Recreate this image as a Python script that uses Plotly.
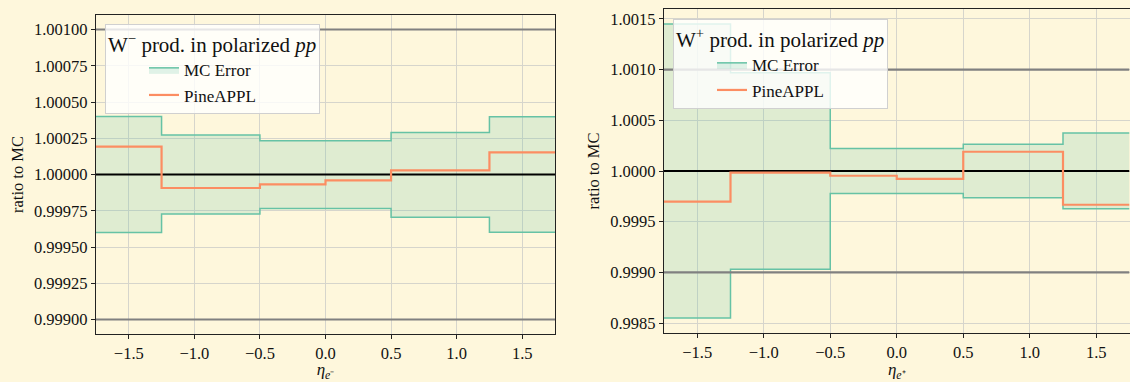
import plotly.graph_objects as go

# ---------------- data ----------------
bin_edges = [-1.75, -1.25, -0.5, 0.0, 0.5, 1.25, 1.75]

# W- panel
wm_mc_upper = [1.000400, 1.000272, 1.000233, 1.000233, 1.000290, 1.000398]
wm_mc_lower = [0.999600, 0.999727, 0.999765, 0.999765, 0.999705, 0.999602]
wm_pineappl = [1.000192, 0.999907, 0.999932, 0.999959, 1.000028, 1.000152]

# W+ panel
wp_mc_upper = [1.001450, 1.000970, 1.000223, 1.000223, 1.000263, 1.000375]
wp_mc_lower = [0.998550, 0.999030, 0.999778, 0.999778, 0.999737, 0.999628]
wp_pineappl = [0.999698, 0.999983, 0.999953, 0.999922, 1.000190, 0.999667]

ref_levels = [0.999, 1.001]
unity = 1.0

x_ticks = [-1.5, -1.0, -0.5, 0.0, 0.5, 1.0, 1.5]
titles = ["W<sup>−</sup> prod. in polarized <i>pp</i>",
          "W<sup>+</sup> prod. in polarized <i>pp</i>"]
x_titles = ["<i>η</i><sub><i>e</i>⁻</sub>", "<i>η</i><sub><i>e</i>⁺</sub>"]

# ---------------- style ----------------
BG = "#fef7dc"
GREEN = "#66c2a5"
GREEN_FILL = "rgba(102,194,165,0.2)"
ORANGE = "#fc8d62"
GRID = "#d6d5cc"
FONT = "Liberation Serif"


def steps(vals):
    return list(vals) + [vals[-1]]


fig = go.Figure()

panels = [
    dict(up=wm_mc_upper, lo=wm_mc_lower, pa=wm_pineappl, xa="x", ya="y", leg="legend"),
    dict(up=wp_mc_upper, lo=wp_mc_lower, pa=wp_pineappl, xa="x2", ya="y2", leg="legend2"),
]

for p in panels:
    fig.add_trace(go.Scatter(x=bin_edges, y=steps(p["lo"]), mode="lines", line_shape="hv",
                             line=dict(color=GREEN, width=1.5), showlegend=False,
                             xaxis=p["xa"], yaxis=p["ya"], hoverinfo="skip"))
    fig.add_trace(go.Scatter(x=bin_edges, y=steps(p["up"]), mode="lines", line_shape="hv",
                             line=dict(color=GREEN, width=1.5), fill="tonexty",
                             fillcolor=GREEN_FILL, name="MC Error", legend=p["leg"],
                             legendrank=1,
                             xaxis=p["xa"], yaxis=p["ya"]))
    for lv in ref_levels:
        fig.add_trace(go.Scatter(x=[bin_edges[0], bin_edges[-1]], y=[lv, lv], mode="lines",
                                 line=dict(color="#808080", width=2.2), showlegend=False,
                                 xaxis=p["xa"], yaxis=p["ya"], hoverinfo="skip"))
    fig.add_trace(go.Scatter(x=[bin_edges[0], bin_edges[-1]], y=[unity, unity], mode="lines",
                             line=dict(color="#000000", width=2), showlegend=False,
                             xaxis=p["xa"], yaxis=p["ya"], hoverinfo="skip"))
    fig.add_trace(go.Scatter(x=bin_edges, y=steps(p["pa"]), mode="lines", line_shape="hv",
                             line=dict(color=ORANGE, width=2.2), name="PineAPPL",
                             legend=p["leg"], legendrank=2,
                             xaxis=p["xa"], yaxis=p["ya"]))


def yrange(lo, hi, extra=()):
    vmin = min(list(lo) + list(extra))
    vmax = max(list(hi) + list(extra))
    m = 0.05 * (vmax - vmin)
    return [vmin - m, vmax + m]


axis_common = dict(showline=True, linecolor="#222222", linewidth=1.2, mirror=True,
                   showgrid=True, gridcolor=GRID, gridwidth=1, zeroline=False,
                   ticks="outside", ticklen=4, tickcolor="#222222", tickwidth=1,
                   tickfont=dict(family=FONT, size=16.5, color="#111111"),
                   automargin=False)

legend_common = dict(xanchor="left", yanchor="top", traceorder="normal",
                     bgcolor="rgba(255,255,255,0.8)", bordercolor="#d0d0d0", borderwidth=1,
                     font=dict(family=FONT, size=17), indentation=38,
                     tracegroupgap=0)

fig.update_layout(
    width=1130, height=382,
    margin=dict(l=0, r=0, t=0, b=0),
    paper_bgcolor=BG, plot_bgcolor=BG,
    font=dict(family=FONT, size=16, color="#111111"),
    xaxis=dict(domain=[96 / 1130, 555 / 1130], anchor="y", range=[bin_edges[0], bin_edges[-1]],
               tickvals=x_ticks, tickformat=".1f",
               title=dict(text=x_titles[0], font=dict(family=FONT, size=17), standoff=6),
               **axis_common),
    yaxis=dict(domain=[1 - 334 / 382, 1 - 15 / 382], anchor="x",
               range=yrange(wm_mc_lower, wm_mc_upper, ref_levels),
               tick0=0.999, dtick=0.00025, tickformat=".5f",
               title=dict(text="ratio to MC", font=dict(family=FONT, size=16.5), standoff=6),
               **axis_common),
    xaxis2=dict(domain=[664 / 1130, 1129.5 / 1130], anchor="y2", range=[bin_edges[0], bin_edges[-1]],
                tickvals=x_ticks, tickformat=".1f",
                title=dict(text=x_titles[1], font=dict(family=FONT, size=17), standoff=6),
                **axis_common),
    yaxis2=dict(domain=[1 - 332.7 / 382, 1 - 9.3 / 382], anchor="x2",
                range=yrange(wp_mc_lower, wp_mc_upper),
                tick0=0.9985, dtick=0.0005, tickformat=".4f",
                title=dict(text="ratio to MC", font=dict(family=FONT, size=16.5), standoff=6),
                **axis_common),
    legend=dict(x=105 / 1130, y=1 - 24 / 382,
                title=dict(text=titles[0], font=dict(family=FONT, size=21)),
                **legend_common),
    legend2=dict(x=673 / 1130, y=1 - 19 / 382,
                 title=dict(text=titles[1], font=dict(family=FONT, size=21)),
                 **legend_common),
    showlegend=True,
)

fig.write_html("out.html")
